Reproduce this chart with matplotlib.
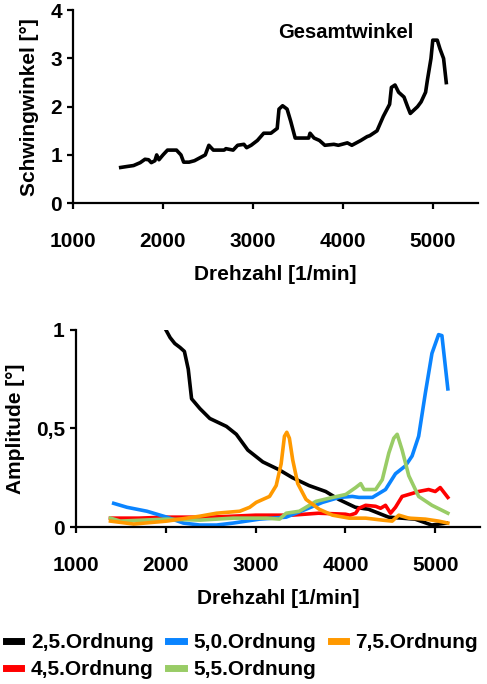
import numpy as np
import matplotlib
matplotlib.use('Agg')
import matplotlib.pyplot as plt

plt.rcParams['font.family'] = ['Liberation Sans', 'DejaVu Sans']
plt.rcParams['font.weight'] = 'bold'

# Gesamtwinkel (top panel)
gw_x = [1530, 1600, 1673, 1747, 1800, 1840, 1870, 1910, 1930, 1955, 2000, 2050, 2100, 2150,
        2200, 2230, 2290, 2350, 2420, 2470, 2510, 2560, 2620, 2680, 2700, 2780, 2830, 2900,
        2930, 2980, 3050, 3120, 3200, 3270, 3290, 3330, 3380, 3420, 3470, 3550, 3620, 3635,
        3680, 3740, 3800, 3900, 3950, 4050, 4100, 4200, 4270, 4300, 4380, 4450, 4520, 4540,
        4580, 4620, 4680, 4720, 4750, 4830, 4870, 4920, 4940, 4980, 5000, 5050, 5080, 5120,
        5150]
gw_y = [0.74, 0.76, 0.78, 0.84, 0.91, 0.90, 0.84, 0.88, 1.00, 0.90, 1.00, 1.10, 1.10, 1.10,
        1.00, 0.85, 0.85, 0.88, 0.95, 1.00, 1.20, 1.10, 1.10, 1.10, 1.13, 1.10, 1.20, 1.22,
        1.15, 1.20, 1.30, 1.45, 1.45, 1.55, 1.95, 2.02, 1.95, 1.70, 1.35, 1.35, 1.35, 1.45,
        1.35, 1.30, 1.20, 1.22, 1.20, 1.25, 1.20, 1.30, 1.38, 1.40, 1.50, 1.80, 2.05, 2.40,
        2.45, 2.30, 2.20, 2.00, 1.86, 2.00, 2.10, 2.30, 2.55, 3.00, 3.38, 3.38, 3.20, 3.00,
        2.50]

# Ordnungen (bottom panel)
o25_x = [2000, 2048, 2100, 2158, 2207, 2250, 2287, 2380, 2490, 2675, 2785, 2913, 3080, 3262,
         3410, 3595, 3780, 3925, 4110, 4258, 4480, 4775, 4960, 5125]
o25_y = [1.00, 0.96, 0.93, 0.91, 0.89, 0.80, 0.65, 0.60, 0.55, 0.51, 0.47, 0.39, 0.33, 0.29,
         0.25, 0.21, 0.18, 0.14, 0.10, 0.09, 0.05, 0.04, 0.01, 0.02]

o50_x = [1420, 1568, 1790, 2011, 2196, 2380, 2565, 2750, 3044, 3340, 3560, 3745, 3930, 4077,
         4150, 4300, 4446, 4557, 4668, 4742, 4815, 4890, 4963, 5037, 5074, 5140]
o50_y = [0.12, 0.10, 0.08, 0.05, 0.02, 0.01, 0.01, 0.02, 0.04, 0.05, 0.09, 0.125, 0.15, 0.155,
         0.15, 0.15, 0.19, 0.27, 0.31, 0.36, 0.46, 0.68, 0.88, 0.975, 0.97, 0.70]

o75_x = [1384, 1642, 2011, 2380, 2565, 2823, 2934, 3007, 3081, 3155, 3229, 3284, 3321, 3347,
         3376, 3413, 3469, 3561, 3708, 3856, 4041, 4225, 4410, 4520, 4594, 4705, 4890, 5037,
         5140]
o75_y = [0.03, 0.015, 0.03, 0.055, 0.07, 0.08, 0.10, 0.125, 0.14, 0.155, 0.21, 0.32, 0.46, 0.48,
         0.45, 0.34, 0.22, 0.14, 0.09, 0.06, 0.045, 0.045, 0.035, 0.03, 0.06, 0.045, 0.04, 0.03,
         0.02]

o45_x = [1384, 1700, 2000, 2500, 3000, 3400, 3700, 4000, 4050, 4114, 4150, 4225, 4336, 4391,
         4446, 4502, 4557, 4631, 4742, 4815, 4926, 5000, 5055, 5140]
o45_y = [0.045, 0.045, 0.05, 0.05, 0.06, 0.06, 0.07, 0.065, 0.06, 0.07, 0.095, 0.11, 0.105,
         0.095, 0.11, 0.07, 0.10, 0.155, 0.17, 0.18, 0.19, 0.18, 0.20, 0.15]

o55_x = [1384, 1494, 2011, 2380, 2750, 3118, 3266, 3340, 3487, 3561, 3672, 3856, 4004, 4114,
         4170, 4207, 4336, 4410, 4483, 4538, 4576, 4631, 4705, 4815, 4963, 5140]
o55_y = [0.045, 0.03, 0.04, 0.035, 0.045, 0.045, 0.04, 0.07, 0.08, 0.10, 0.13, 0.15, 0.165,
         0.20, 0.22, 0.19, 0.19, 0.24, 0.375, 0.45, 0.47, 0.39, 0.26, 0.155, 0.11, 0.07]

xticks = [1000, 2000, 3000, 4000, 5000]

fig = plt.figure(figsize=(4.87, 6.84), dpi=100)
ax1 = fig.add_axes([0.150, 0.703, 0.831, 0.282])
ax2 = fig.add_axes([0.156, 0.2295, 0.830, 0.2885])

for ax in (ax1, ax2):
    for s in ('top', 'right'):
        ax.spines[s].set_visible(False)
    for s in ('left', 'bottom'):
        ax.spines[s].set_linewidth(1.6)
    ax.set_xlim(1000, 5500)
    ax.set_xticks(xticks)
    ax.tick_params(width=1.6, length=4, labelsize=15, pad=17)
    ax.tick_params(axis='y', pad=4)
    ax.set_xlabel('Drehzahl [1/min]', fontsize=15, fontweight='bold', labelpad=10)

ax1.plot(gw_x, gw_y, color='black', lw=2.6)
ax1.set_ylim(0, 4)
ax1.set_yticks([0, 1, 2, 3, 4])
ax1.set_ylabel('Schwingwinkel [°]', fontsize=15, fontweight='bold', labelpad=8)
ax1.text(4030, 3.54, 'Gesamtwinkel', fontsize=14.5, fontweight='bold', ha='center', va='center')

ax2.plot(o25_x, o25_y, color='black', lw=2.6, label='2,5.Ordnung')
ax2.plot(o45_x, o45_y, color='#FF0000', lw=2.6, label='4,5.Ordnung')
ax2.plot(o50_x, o50_y, color='#0A84FF', lw=2.6, label='5,0.Ordnung')
ax2.plot(o55_x, o55_y, color='#99CC66', lw=2.6, label='5,5.Ordnung')
ax2.plot(o75_x, o75_y, color='#FF9900', lw=2.6, label='7,5.Ordnung')
ax2.set_ylim(0, 1)
ax2.set_yticks([0, 0.5, 1])
ax2.set_yticklabels(['0', '0,5', '1'])
ax2.set_ylabel('Amplitude [°]', fontsize=15, fontweight='bold', labelpad=8)

h, l = ax2.get_legend_handles_labels()
leg = fig.legend(h, l, ncol=3, loc='upper left', bbox_to_anchor=(0.012, 1 - 633 / 684),
                 frameon=False, prop={'size': 15, 'weight': 'bold'}, handlelength=0.75,
                 handletextpad=0.45, columnspacing=0.7, labelspacing=0.4,
                 borderaxespad=0.0, borderpad=0.0)
for line in leg.get_lines():
    line.set_linewidth(5)

fig.savefig('out.png', dpi=100)
